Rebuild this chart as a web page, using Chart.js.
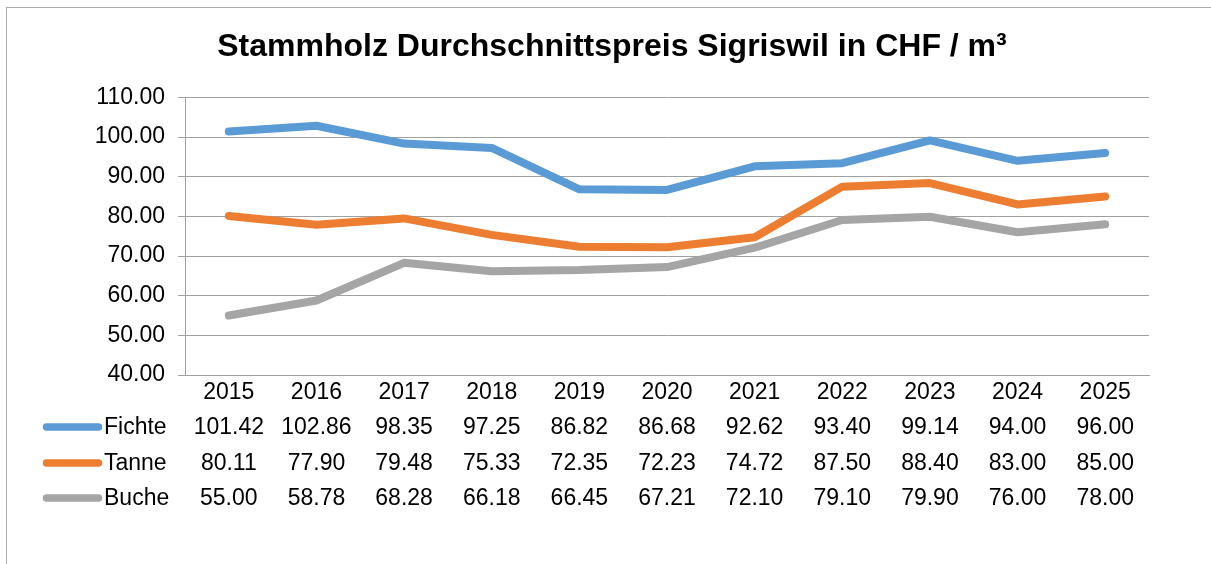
<!DOCTYPE html>
<html>
<head>
<meta charset="utf-8">
<script src="https://cdn.jsdelivr.net/npm/chart.js@4/dist/chart.umd.min.js"></script>
<style>
html,body{margin:0;padding:0;background:#fff;}
#wrap{width:1211px;height:564px;position:relative;}
</style>
</head>
<body>
<div id="wrap"><canvas id="c" width="1211" height="564"></canvas></div>
<script>
const years = ['2015','2016','2017','2018','2019','2020','2021','2022','2023','2024','2025'];
const fichte = [101.42,102.86,98.35,97.25,86.82,86.68,92.62,93.40,99.14,94.00,96.00];
const tanne  = [80.11,77.90,79.48,75.33,72.35,72.23,74.72,87.50,88.40,83.00,85.00];
const buche  = [55.00,58.78,68.28,66.18,66.45,67.21,72.10,79.10,79.90,76.00,78.00];
const seriesNames = ['Fichte','Tanne','Buche'];
const seriesColors = ['#5B9BD5','#ED7D31','#A5A5A5'];
const titleText = 'Stammholz Durchschnittspreis Sigriswil in CHF / m³';

const FONT = "'Liberation Sans', Arial, sans-serif";
const TXT = 23;

const tablePlugin = {
  id: 'dataTable',
  beforeDraw(chart) {
    const ctx = chart.ctx;
    ctx.save();
    ctx.fillStyle = '#fff';
    ctx.fillRect(0,0,chart.width,chart.height);
    ctx.strokeStyle = '#ABABAB';
    ctx.lineWidth = 1;
    ctx.strokeRect(6.5, 7.5, 1300, 700);
    ctx.restore();
  },
  afterDraw(chart) {
    const ctx = chart.ctx;
    const x = chart.scales.x;
    const rowsY = [427, 463, 498];
    ctx.save();
    ctx.font = TXT + 'px ' + FONT;
    ctx.textBaseline = 'middle';
    chart.data.datasets.forEach((ds, i) => {
      const y = rowsY[i];
      ctx.strokeStyle = ds.borderColor;
      ctx.lineWidth = 7.5;
      ctx.lineCap = 'round';
      ctx.beginPath();
      ctx.moveTo(46.5, y);
      ctx.lineTo(98.5, y);
      ctx.stroke();
      ctx.fillStyle = '#000';
      ctx.textAlign = 'left';
      ctx.fillText(ds.label, 104, y + 1);
      ctx.textAlign = 'center';
      ds.data.forEach((v, j) => {
        ctx.fillText(v.toFixed(2), x.getPixelForValue(j), y + 1);
      });
    });
    ctx.restore();
  }
};

const mk = (i, arr) => ({
  label: seriesNames[i], data: arr, borderColor: seriesColors[i], backgroundColor: seriesColors[i],
  borderWidth: 8, pointRadius: 0, tension: 0, borderCapStyle: 'round', borderJoinStyle: 'round', fill: false
});

new Chart(document.getElementById('c'), {
  type: 'line',
  data: { labels: years, datasets: [mk(0, fichte), mk(1, tanne), mk(2, buche)] },
  plugins: [tablePlugin],
  options: {
    responsive: false,
    animation: false,
    devicePixelRatio: 1,
    layout: { padding: { left: 13, right: 0, top: 0, bottom: 0 } },
    plugins: {
      legend: { display: false },
      tooltip: { enabled: false },
      title: {
        display: true, text: titleText, color: '#000',
        font: { family: FONT, size: 32, weight: 'bold' },
        padding: { top: 28, bottom: 31 }
      }
    },
    scales: {
      x: {
        offset: true,
        grid: { display: false, drawTicks: false },
        border: { display: true, color: '#A0A0A0', width: 1 },
        ticks: { color: '#000', font: { family: FONT, size: TXT }, padding: 4, maxRotation: 0 },
        afterFit(s) { s.height = 564 - 375; }
      },
      y: {
        min: 40, max: 110,
        grid: { color: '#A0A0A0', lineWidth: 1, drawTicks: true, tickLength: 7 },
        border: { display: true, color: '#A0A0A0', width: 1 },
        ticks: { stepSize: 10, color: '#000', font: { family: FONT, size: TXT }, padding: 13,
                 callback: v => Number(v).toFixed(2) },
        afterFit(s) { s.width = 172; }
      },
      yR: {
        position: 'right',
        display: true,
        min: 0, max: 1,
        grid: { display: false, drawTicks: false },
        border: { display: false },
        ticks: { display: false },
        afterFit(s) { s.width = 62; }
      }
    }
  }
});
</script>
</body>
</html>
